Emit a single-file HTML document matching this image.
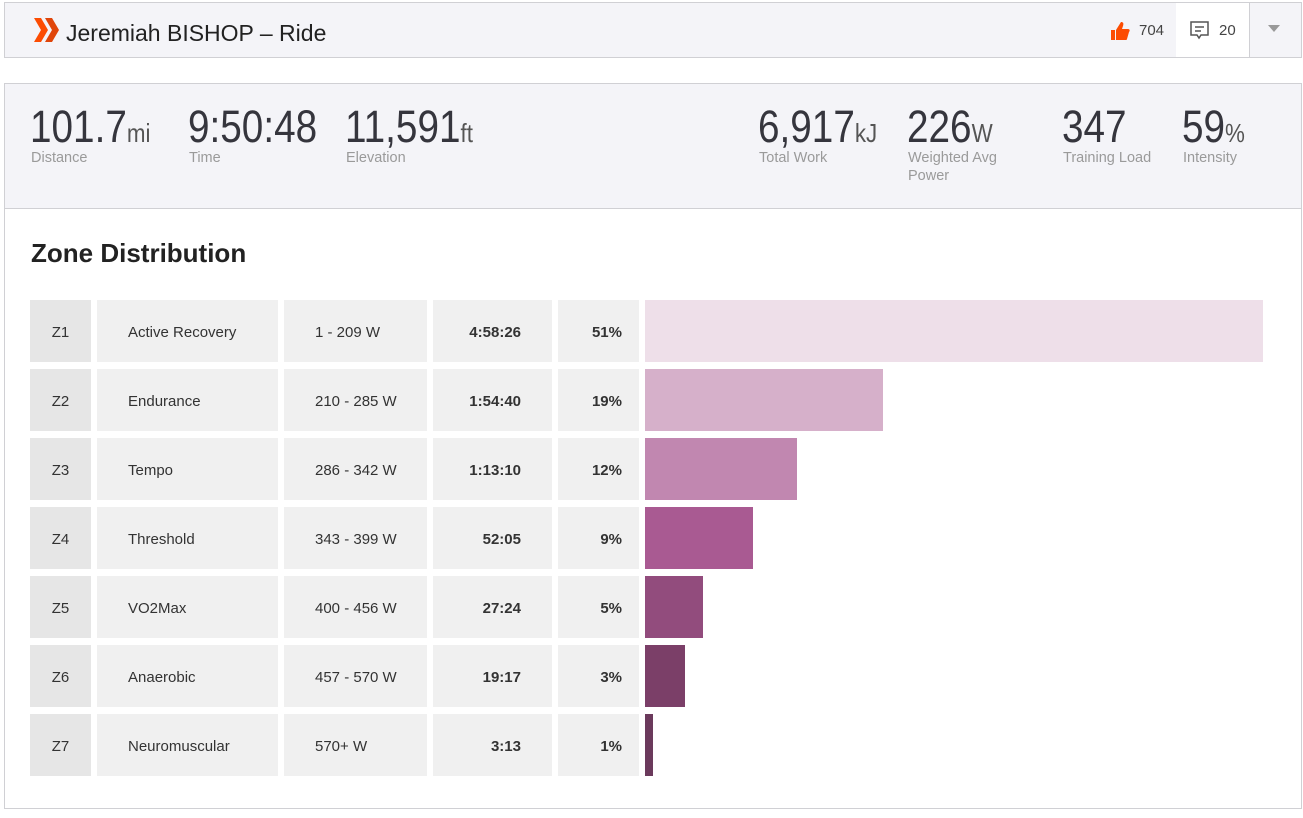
<!DOCTYPE html>
<html><head><meta charset="utf-8"><style>
body{margin:0;width:1303px;height:818px;background:#fff;font-family:"Liberation Sans",sans-serif;position:relative;overflow:hidden;color:#333}
.abs{position:absolute}
.hdr{left:4px;top:2px;width:1296px;height:54px;background:#f4f4f8;border:1px solid #d0d0d4}
.stats{left:4px;top:83px;width:1296px;height:125px;background:#f4f4f8;border:1px solid #d0d0d4;border-bottom:none}
.panel{left:4px;top:208px;width:1296px;height:599px;border:1px solid #d0d0d4}
.num{position:absolute;top:99px;font-size:45px;color:#35353d;transform:scaleX(0.86);transform-origin:left;white-space:nowrap;line-height:56px}
.num span{font-size:26px;color:#555}
.lbl{position:absolute;top:149px;font-size:14.5px;color:#9a9a9a;line-height:18px}
.c{position:absolute;height:62px;line-height:66px;font-size:15px;background:#f0f0f0;white-space:nowrap}
</style></head><body>
<div class="abs hdr"></div>
<svg class="abs" style="left:34px;top:18px" width="26" height="24"><polygon points="0,0 7,0 14,12 7,24 0,24 7,12" fill="#fc4c02"/><polygon points="11,0 18,0 25,12 18,24 11,24 18,12" fill="#e0450a"/></svg>
<div class="abs" style="left:66px;top:18px;font-size:23px;color:#222;line-height:30px">Jeremiah BISHOP – Ride</div>
<svg class="abs" style="left:1110px;top:21px" width="20" height="20"><path d="M1 9h4v10H1z M6 9l5-8c2 0 3 1 2 4l-1 3h6c2 0 2 2 1 3l-2 7c0 1-1 1-2 1H6z" fill="#fc4c02"/></svg>
<div class="abs" style="left:1139px;top:22px;font-size:15px;color:#444">704</div>
<div class="abs" style="left:1176px;top:3px;width:73px;height:54px;background:#fff;border-right:1px solid #d0d0d4"></div>
<svg class="abs" style="left:1190px;top:21px" width="20" height="20"><path d="M1 1h17v13h-7l-2 3-2-3H1z" fill="none" stroke="#555" stroke-width="1.5"/><path d="M5 6h9M5 10h6" stroke="#555" stroke-width="1.5"/></svg>
<div class="abs" style="left:1219px;top:22px;font-size:15px;color:#444">20</div>
<svg class="abs" style="left:1268px;top:25px" width="12" height="8"><polygon points="0,0 12,0 6,7" fill="#999"/></svg>
<div class="abs stats"></div>
<div class="abs panel"></div>
<div class="num" style="left:30px">101.7<span>mi</span></div><div class="lbl" style="left:31px">Distance</div>
<div class="num" style="left:188px">9:50:48</div><div class="lbl" style="left:189px">Time</div>
<div class="num" style="left:345px">11,591<span>ft</span></div><div class="lbl" style="left:346px">Elevation</div>
<div class="num" style="left:758px">6,917<span>kJ</span></div><div class="lbl" style="left:759px">Total Work</div>
<div class="num" style="left:907px">226<span>W</span></div><div class="lbl" style="left:908px">Weighted Avg<br>Power</div>
<div class="num" style="left:1062px">347</div><div class="lbl" style="left:1063px">Training Load</div>
<div class="num" style="left:1182px">59<span>%</span></div><div class="lbl" style="left:1183px">Intensity</div>
<div class="abs" style="left:31px;top:238px;font-size:26px;font-weight:bold;color:#222">Zone Distribution</div>
<div id="t"></div>
<script>
var d=[["Z1","Active Recovery","1 - 209 W","4:58:26","51%",1263,"#eedfe9"],["Z2","Endurance","210 - 285 W","1:54:40","19%",883,"#d6b0ca"],["Z3","Tempo","286 - 342 W","1:13:10","12%",797,"#c187b0"],["Z4","Threshold","343 - 399 W","52:05","9%",753,"#a95a92"],["Z5","VO2Max","400 - 456 W","27:24","5%",703,"#924c7d"],["Z6","Anaerobic","457 - 570 W","19:17","3%",685,"#7b3f68"],["Z7","Neuromuscular","570+ W","3:13","1%",653,"#6b3a5c"]];
var h="";d.forEach(function(r,i){var y=300+i*69;
h+='<div class="c" style="left:30px;top:'+y+'px;width:61px;background:#e6e6e6;text-align:center">'+r[0]+'</div>';
h+='<div class="c" style="left:97px;top:'+y+'px;width:150px;padding-left:31px">'+r[1]+'</div>';
h+='<div class="c" style="left:284px;top:'+y+'px;width:112px;padding-left:31px">'+r[2]+'</div>';
h+='<div class="c" style="left:433px;top:'+y+'px;width:88px;padding-right:31px;text-align:right;font-weight:bold">'+r[3]+'</div>';
h+='<div class="c" style="left:558px;top:'+y+'px;width:64px;padding-right:17px;text-align:right;font-weight:bold">'+r[4]+'</div>';
h+='<div class="c" style="left:645px;top:'+y+'px;width:'+(r[5]-645)+'px;background:'+r[6]+'"></div>';});
document.getElementById("t").innerHTML=h;
</script>
</body></html>
